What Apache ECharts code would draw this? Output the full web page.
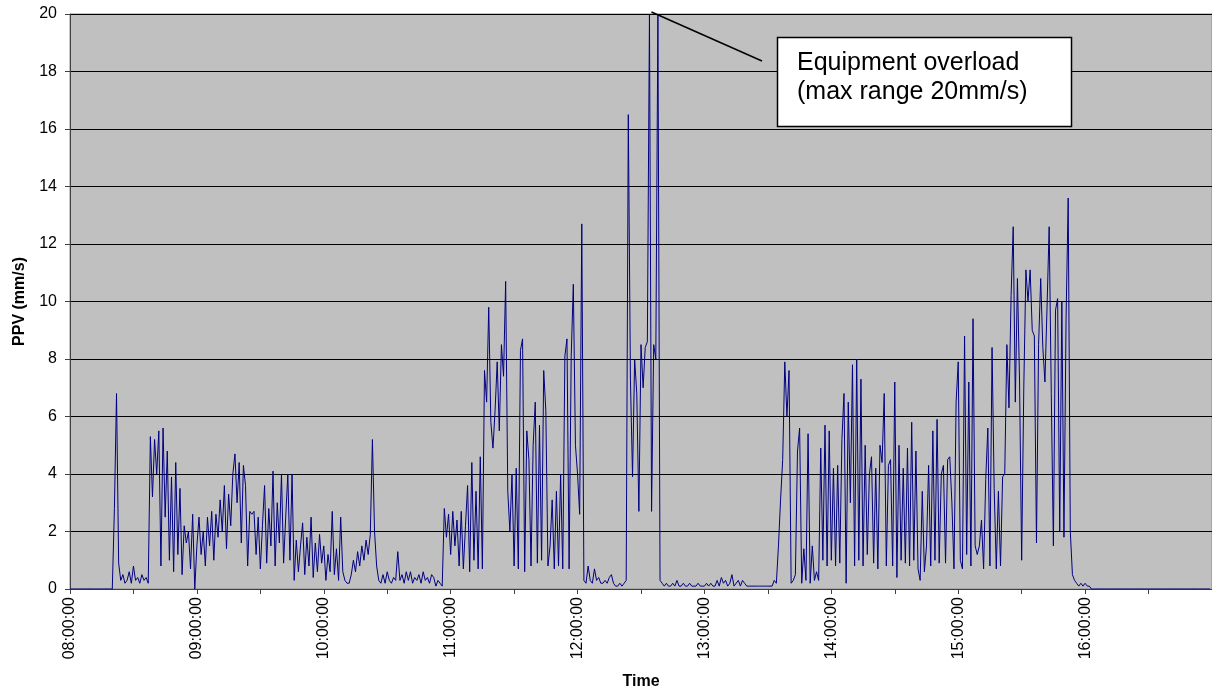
<!DOCTYPE html>
<html>
<head>
<meta charset="utf-8">
<script src="https://cdn.jsdelivr.net/npm/echarts@6/dist/echarts.min.js"></script>
<style>
html,body{margin:0;padding:0;background:#fff;}
#chart{width:1212px;height:695px;}
</style>
</head>
<body>
<div id="chart"></div>
<script>
// PPV readings at one-minute steps, one array per hour (08:00 ... 16:00)
const h08 = [0,0,0,0,0,0,0,0,0,0, 0,0,0,0,0,0,0,0,0,0,
  0,2.8,6.8,0.9,0.3,0.5,0.2,0.3,0.6,0.2, 0.8,0.3,0.4,0.2,0.5,0.3,0.4,0.2,5.3,3.2,
  5.2,4.0,5.5,0.8,5.6,2.5,4.8,1.0,3.9,0.6, 4.4,1.2,3.5,0.5,2.2,1.6,2.0,0.7,2.6,0.0];
const h09 = [1.5,2.5,1.2,2.0,0.8,2.5,1.5,2.7,1.0,2.6, 1.8,3.1,2.0,3.6,1.4,3.3,2.2,4.0,4.7,3.0,
  4.4,1.6,4.3,3.6,0.8,2.7,2.6,2.7,1.2,2.5, 0.7,2.2,3.6,0.9,2.8,1.5,4.1,0.8,3.0,1.6,
  4.0,0.9,2.5,4.0,1.0,4.0,0.3,1.7,0.6,1.5, 2.3,0.5,1.8,0.8,2.5,0.4,1.6,0.6,1.9,0.9];
const h10 = [1.5,0.3,1.2,0.6,2.7,0.5,1.4,0.3,2.5,0.6, 0.3,0.2,0.2,0.5,1.0,0.6,1.3,0.8,1.5,1.0,
  1.7,1.2,1.9,5.2,2.0,0.8,0.3,0.2,0.5,0.2, 0.6,0.3,0.2,0.4,0.3,1.3,0.3,0.5,0.2,0.6,
  0.3,0.6,0.2,0.4,0.3,0.5,0.2,0.6,0.3,0.4, 0.2,0.5,0.4,0.1,0.3,0.2,0.1,2.8,1.8,2.6];
const h11 = [1.2,2.7,1.5,2.4,0.8,2.7,0.7,2.2,3.6,0.6, 4.4,1.0,3.4,0.7,4.6,0.7,7.6,6.5,9.8,5.8,
  4.9,6.2,7.9,5.5,8.5,7.4,10.7,3.4,2.0,4.0, 0.8,4.2,0.7,8.3,8.7,0.6,5.5,4.5,0.8,5.0,
  6.5,0.9,5.7,1.0,7.6,6.2,0.8,1.5,3.1,0.7, 3.4,0.8,4.0,0.7,8.1,8.7,0.7,8.1,10.6,5.0];
const h12 = [4.0,2.6,12.7,0.3,0.2,0.8,0.3,0.2,0.7,0.3, 0.4,0.2,0.2,0.3,0.2,0.4,0.5,0.2,0.1,0.1,
  0.2,0.1,0.2,0.3,16.5,7.3,3.9,8.0,6.8,2.7, 8.5,7.0,8.4,8.6,20,2.7,8.5,8.0,20,0.3,
  0.2,0.1,0.2,0.1,0.1,0.2,0.1,0.3,0.1,0.1, 0.2,0.1,0.1,0.2,0.1,0.1,0.1,0.2,0.1,0.1];
const h13 = [0.1,0.2,0.1,0.2,0.1,0.1,0.3,0.1,0.4,0.2, 0.3,0.1,0.2,0.5,0.1,0.2,0.3,0.1,0.3,0.2,
  0.1,0.1,0.1,0.1,0.1,0.1,0.1,0.1,0.1,0.1, 0.1,0.1,0.1,0.3,0.2,1.5,3.1,4.5,7.9,6.0,
  7.6,0.2,0.3,0.5,4.8,5.6,0.2,1.4,0.3,5.4, 0.2,1.5,0.3,0.6,0.3,4.9,1.0,5.7,0.8,5.5];
const h14 = [1.0,4.2,0.8,4.3,0.9,5.2,6.8,0.2,6.5,3.0, 7.8,0.8,8.0,1.0,7.3,0.8,5.0,1.2,4.0,4.6,
  0.9,4.2,0.7,5.0,4.4,6.8,0.8,4.3,4.5,0.8, 7.2,0.4,5.0,1.0,4.2,0.9,4.9,0.8,5.8,1.0,
  4.8,0.7,0.3,3.4,0.6,1.5,4.3,0.8,5.5,1.0, 5.9,0.9,4.0,4.3,0.9,4.5,4.6,3.0,0.7,6.5];
const h15 = [7.9,1.0,0.7,8.8,1.2,7.2,0.8,9.4,1.5,1.2, 1.5,2.4,0.7,3.8,5.6,0.8,8.4,3.5,0.7,3.4,
  0.8,3.9,4.0,8.5,6.3,10.2,12.6,6.5,10.8,7.2, 1.0,7.0,11.1,10.0,11.1,9.0,8.8,1.6,8.5,10.8,
  8.4,7.2,9.8,12.6,6.8,1.5,9.7,10.1,2.0,10.0, 1.8,9.4,13.6,2.0,0.5,0.3,0.2,0.1,0.2,0.1];
const h16 = [0.2,0.1,0.1,0,0,0,0,0,0,0, 0,0,0,0,0,0,0,0,0,0,
  0,0,0,0,0,0,0,0,0,0, 0,0,0,0,0,0,0,0,0,0,
  0,0,0,0,0,0,0,0,0,0, 0,0,0,0,0,0,0,0,0,0];
const hourBlocks = [h08, h09, h10, h11, h12, h13, h14, h15, h16];
const startHour = 8;
const yTicks = [0, 20, 2];           // min, max, step (mm/s)
const xRange = [0, 540, 30];         // minutes after 08:00, tick step
const overloadMinute = 274;          // the overload spike the note points to
const noteLines = ['Equipment overload', '(max range 20mm/s)'];

const seriesData = [];
hourBlocks.forEach((arr, hi) => arr.forEach((v, i) => seriesData.push([hi * 60 + i, v])));

const pad = n => (n < 10 ? '0' : '') + n;
const FONT = '"Liberation Sans", Arial, sans-serif';

const chart = echarts.init(document.getElementById('chart'), null, {renderer: 'canvas'});
chart.setOption({
  animation: false,
  backgroundColor: '#ffffff',
  grid: {left: 70, top: 14, right: 0, bottom: 105, show: true,
         backgroundColor: '#c0c0c0', borderColor: '#8c8c8c', borderWidth: 1},
  xAxis: {
    type: 'value', min: xRange[0], max: xRange[1], interval: xRange[2],
    name: 'Time', nameLocation: 'middle', nameGap: 85,
    nameTextStyle: {fontFamily: FONT, fontSize: 16, fontWeight: 'bold', color: '#000'},
    axisLine: {show: true, onZero: false, lineStyle: {color: '#404040', width: 1}},
    axisTick: {show: true, length: 5, lineStyle: {color: '#404040'}},
    splitLine: {show: false},
    axisLabel: {
      rotate: 90, margin: 8, fontFamily: FONT, fontSize: 16, color: '#000',
      showMaxLabel: false,
      formatter: v => (v % 60 === 0 && v < xRange[1]) ? pad(startHour + v / 60) + ':00:00' : ''
    }
  },
  yAxis: {
    type: 'value', min: yTicks[0], max: yTicks[1], interval: yTicks[2],
    name: 'PPV (mm/s)', nameLocation: 'middle', nameGap: 42,
    nameTextStyle: {fontFamily: FONT, fontSize: 16, fontWeight: 'bold', color: '#000'},
    axisLine: {show: true, lineStyle: {color: '#404040', width: 1}},
    axisTick: {show: true, length: 5, lineStyle: {color: '#404040'}},
    splitLine: {show: true, lineStyle: {color: '#000000', width: 1.2}},
    axisLabel: {margin: 13, fontFamily: FONT, fontSize: 16, color: '#000'}
  },
  series: [{
    type: 'line', data: seriesData, showSymbol: false, symbol: 'none',
    lineStyle: {color: '#000080', width: 1}, clip: true, z: 3
  }]
});

// annotation box and pointer line
const anchor = chart.convertToPixel({gridIndex: 0}, [overloadMinute, yTicks[1]]);
chart.setOption({
  graphic: [
    {type: 'line', z: 100, shape: {x1: anchor[0] + 2, y1: anchor[1] - 2, x2: 762, y2: 61},
     style: {stroke: '#000', lineWidth: 1.5}},
    {type: 'rect', z: 100, shape: {x: 777.5, y: 37.5, width: 294, height: 89},
     style: {fill: '#ffffff', stroke: '#000', lineWidth: 1.5}},
    {type: 'text', z: 101, left: 797, top: 49,
     style: {text: noteLines.join('\n'), font: '25px ' + FONT, fill: '#000', lineHeight: 29}}
  ]
});
</script>
</body>
</html>
